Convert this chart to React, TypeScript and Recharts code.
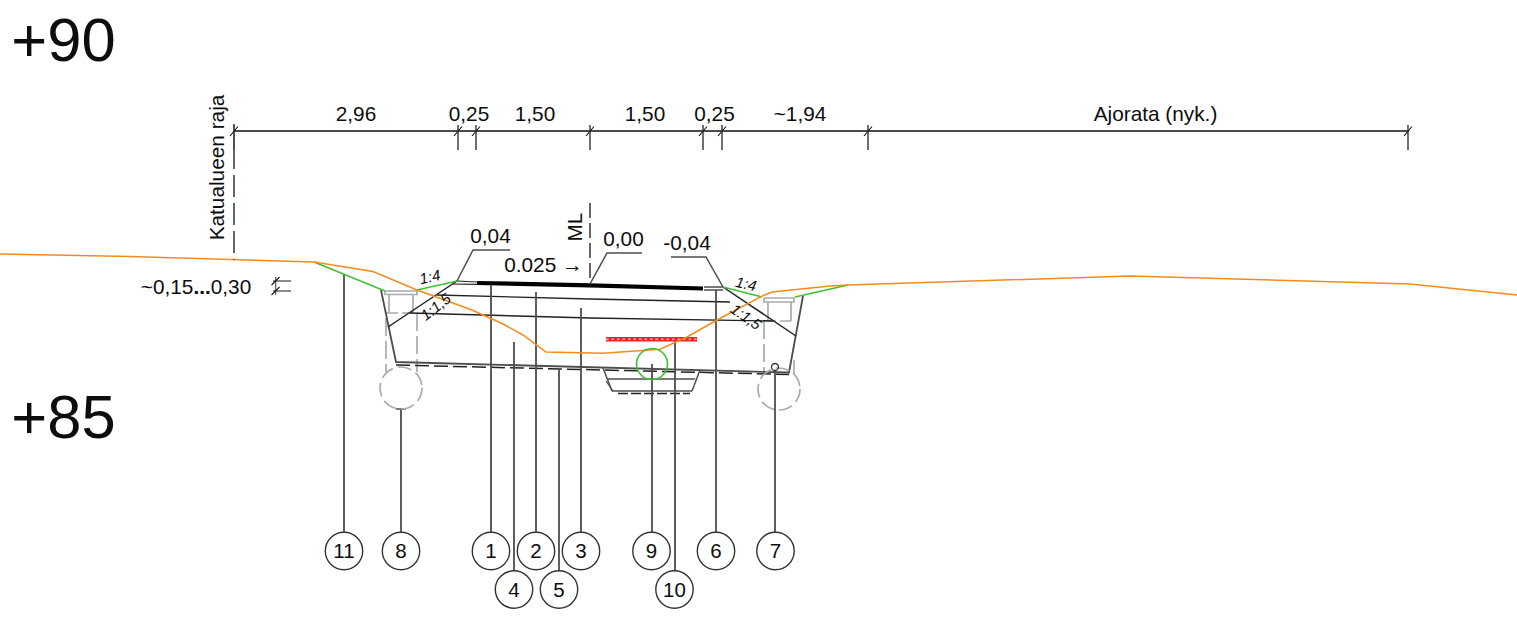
import React from "react";
import { ComposedChart, Line, Scatter, XAxis, YAxis } from "recharts";

// Drawing coordinates of the cross-section.
const ground = [[0,254],[130,256.5],[314,262],[373,271.5],[417,290],[472,310],[503,324],[523,335],[546,352],[603,353.3],[660,349.3],[687,337],[717,320],[763,295.7],[772,292],[830,286],[848,285],[1130,276],[1410,284],[1517,295]];
const greenLeft = [[314,262],[385,291]];
const greenLeft2 = [[417,290],[457,281]];
const greenRight = [[723,287],[762,297]];
const greenRight2 = [[795,297],[848,285]];
const trench = [[381,290],[396,362],[789,372.5],[803,296]];
const trenchDashed = [[396,365],[789,374.5]];
const slopeLeft = [[388,327],[457,281]];
const slopeRight = [[723,287],[796,336]];
const layer1 = [[437,295],[590,299],[730,302]];
const layer2 = [[410,313],[590,318],[773,321]];
const surface = [[477,283],[590,285.3],[703,288.5]];
const edgeLeftTop = [[457,281],[477,282]];
const edgeLeftBottom = [[453,284],[477,284.3]];
const edgeRightTop = [[704,287],[723,287]];
const edgeRightBottom = [[704,290],[723,290]];
const redMesh = [[606,339.3],[697,339.3]];
const drainLeft = [[603,368],[612,391]];
const drainLeft2 = [[606,381],[613,391]];
const drainRight = [[700,370],[692,391]];
const drainMid = [[607,379],[695,379]];
const drainBottom = [[612,391],[692,391]];
const drainDashed = [[618,393.5],[690,393.5]];
const leaderLeft = [[457,281],[473,250],[510,250]];
const leaderMid = [[590,284],[607,253],[642,253]];
const leaderRight = [[723,287],[706,257],[671,257]];
const centerLine = [[590,203],[590,284]];
const boundary = [[234,147],[234,260]];
const boundaryTop = [[234,124],[234,147]];
const dimLine = [[234,131],[1408,131]];
const smallDim1 = [[273,281],[291,281]];
const smallDim2 = [[273,291],[291,291]];
const smallTick1 = [[271.5,285],[279.5,277]];
const smallTick2 = [[271.5,295],[279.5,287]];
const smallStem = [[275.7,277],[275.7,295]];
const dimStations = [234,458,476,590,703,722,868,1408];

// grey utility structures
const wellLeftPlate = [[385,291],[417,291],[417,294.5],[385,294.5],[385,291]];
const wellLeftCol1 = [[389,295],[389,313]];
const wellLeftCol2 = [[413,295],[413,313]];
const wellLeftDash1 = [[386,318],[386,372]];
const wellLeftDash2 = [[417,313],[417,372]];
const wellLeftMid = [[386,313],[417,313]];
const wellRightPlate = [[764,298],[794,298],[794,302],[764,302],[764,298]];
const wellRightCol1 = [[768,302],[768,321]];
const wellRightCol2 = [[791,302],[791,321]];
const wellRightDash1 = [[764,321],[764,375]];
const wellRightDash2 = [[794,360],[794,375]];
const wellRightMid = [[764,321],[791,321]];

const leaders = [
  [[344,275],[344,532]],
  [[401,409],[401,532]],
  [[491,285],[491,532]],
  [[536,292],[536,532]],
  [[581,308],[581,532]],
  [[514,342],[514,571]],
  [[559,370],[559,571]],
  [[652,364],[652,532]],
  [[675,339],[675,571]],
  [[716,290],[716,532]],
  [[775,371],[775,532]],
];
const wellCapLeft = [[396,409],[406,409]];

const calloutRow = [
  { x: 344, y: 551, label: "11" },
  { x: 401, y: 551, label: "8" },
  { x: 491, y: 551, label: "1" },
  { x: 536, y: 551, label: "2" },
  { x: 581, y: 551, label: "3" },
  { x: 651.5, y: 551, label: "9" },
  { x: 716, y: 551, label: "6" },
  { x: 775.5, y: 551, label: "7" },
  { x: 514, y: 589.5, label: "4" },
  { x: 559, y: 589.5, label: "5" },
  { x: 674.5, y: 589.5, label: "10" },
];

const dimLabels = [
  { x: 356, y: 120.5, label: "2,96" },
  { x: 469, y: 120.5, label: "0,25" },
  { x: 535, y: 120.5, label: "1,50" },
  { x: 645, y: 120.5, label: "1,50" },
  { x: 714.5, y: 120.5, label: "0,25" },
  { x: 800, y: 120.5, label: "~1,94" },
  { x: 1155.5, y: 120.5, label: "Ajorata (nyk.)" },
  { x: 490.5, y: 243, label: "0,04" },
  { x: 623.5, y: 246, label: "0,00" },
  { x: 687, y: 250, label: "-0,04" },
  { x: 543.5, y: 272, label: "0.025 →" },
];
const levelLabels = [
  { x: 63.5, y: 61, label: "+90" },
  { x: 63.5, y: 438, label: "+85" },
];
const slopeLabels = [
  { x: 431, y: 282, label: "1:4", angle: -12 },
  { x: 745, y: 289, label: "1:4", angle: 12 },
  { x: 439, y: 311, label: "1:1,5", angle: -38 },
  { x: 743, y: 321, label: "1:1,5", angle: 35 },
];
const verticalLabels = [
  { x: 223.5, y: 167.5, label: "Katualueen raja" },
  { x: 582, y: 227, label: "ML" },
];
const rangeLabel = [{ x: 196, y: 294, before: "~0,15", dots: "...", after: "0,30" }];
const greenCircle = [{ x: 652, y: 364 }];
const wellPipes = [{ x: 401, y: 388 }, { x: 779, y: 389 }];
const smallPipe = [{ x: 775, y: 367 }];

const pts = (a: number[][]) => a.map(([x, y]) => ({ x, y }));
const FONT = "'Liberation Sans', Arial, sans-serif";
const DARK = "#4d4d4d";
const GREY = "#ababab";
const ORANGE = "#f58a1f";
const GREEN = "#3cc232";
const INK = "#0d0d0d";

const poly = (key: string, a: number[][], stroke: string, strokeWidth: number, strokeDasharray?: string) => (
  <Line
    key={key}
    data={pts(a)}
    dataKey="y"
    stroke={stroke}
    strokeWidth={strokeWidth}
    strokeDasharray={strokeDasharray}
    dot={false}
    activeDot={false}
    legendType="none"
    isAnimationActive={false}
  />
);

const textShape = (size: number, anchor: string = "middle", italic = false) => (p: any) => (
  <text
    x={p.cx}
    y={p.cy}
    fontFamily={FONT}
    fontSize={size}
    textAnchor={anchor}
    fontStyle={italic ? "italic" : "normal"}
    fill={INK}
    transform={p.payload.angle ? `rotate(${p.payload.angle} ${p.cx} ${p.cy})` : undefined}
  >
    {p.payload.label}
  </text>
);
const verticalShape = (p: any) => (
  <text x={p.cx} y={p.cy} fontFamily={FONT} fontSize={20.8} textAnchor="middle" fill={INK} transform={`rotate(-90 ${p.cx} ${p.cy})`}>
    {p.payload.label}
  </text>
);
const rangeShape = (p: any) => (
  <text x={p.cx} y={p.cy} fontFamily={FONT} fontSize={20.8} textAnchor="middle" fill={INK}>
    {p.payload.before}
    <tspan fontWeight="bold">{p.payload.dots}</tspan>
    {p.payload.after}
  </text>
);
const calloutShape = (p: any) => (
  <g>
    <circle cx={p.cx} cy={p.cy} r={18.7} fill="#fff" stroke="#333" strokeWidth={1.4} />
    <text x={p.cx} y={p.cy + 7.2} fontFamily={FONT} fontSize={20.5} textAnchor="middle" fill={INK}>
      {p.payload.label}
    </text>
  </g>
);
const ringShape = (r: number, stroke: string, width: number, dash?: string) => (p: any) => (
  <circle cx={p.cx} cy={p.cy} r={r} fill="none" stroke={stroke} strokeWidth={width} strokeDasharray={dash} />
);
const marks = (key: string, data: any[], shape: any) => (
  <Scatter key={key} data={data} dataKey="y" shape={shape} legendType="none" isAnimationActive={false} />
);

export default function App() {
  return (
    <div style={{ position: "absolute", left: 0, top: 0, width: 1517, height: 618, background: "#fff" }}>
      <ComposedChart width={1517} height={618} margin={{ top: 0, right: 0, bottom: 0, left: 0 }}>
        <XAxis type="number" dataKey="x" domain={[0, 1517]} hide />
        <YAxis type="number" dataKey="y" domain={[0, 618]} reversed hide width={0} />

        {poly("wlp", wellLeftPlate, GREY, 1.7)}
        {poly("wlc1", wellLeftCol1, GREY, 1.7)}
        {poly("wlc2", wellLeftCol2, GREY, 1.7)}
        {poly("wld1", wellLeftDash1, GREY, 1.7, "18 5")}
        {poly("wld2", wellLeftDash2, GREY, 1.7, "18 5")}
        {poly("wlm", wellLeftMid, GREY, 1.4, "12 4")}
        {poly("wrp", wellRightPlate, GREY, 1.7)}
        {poly("wrc1", wellRightCol1, GREY, 1.7)}
        {poly("wrc2", wellRightCol2, GREY, 1.7)}
        {poly("wrd1", wellRightDash1, GREY, 1.7, "18 5")}
        {poly("wrd2", wellRightDash2, GREY, 1.7, "18 5")}
        {poly("wrm", wellRightMid, GREY, 1.4, "12 4")}
        {marks("wells", wellPipes, ringShape(21, GREY, 1.7, "14 5"))}

        {poly("trench", trench, DARK, 1.8)}
        {poly("trenchDash", trenchDashed, "#222", 1.5, "14 5")}
        {poly("sl", slopeLeft, "#222", 1.5)}
        {poly("sr", slopeRight, "#222", 1.5)}
        {poly("l1", layer1, "#222", 1.4)}
        {poly("l2", layer2, "#222", 1.4)}
        {poly("surface", surface, "#000", 4.2)}
        {poly("elt", edgeLeftTop, "#222", 1.2)}
        {poly("elb", edgeLeftBottom, "#222", 1.2)}
        {poly("ert", edgeRightTop, "#222", 1.2)}
        {poly("erb", edgeRightBottom, "#222", 1.2)}

        {poly("dl", drainLeft, DARK, 1.5)}
        {poly("dl2", drainLeft2, DARK, 1.3)}
        {poly("dr", drainRight, DARK, 1.5)}
        {poly("dm", drainMid, DARK, 1.4)}
        {poly("db", drainBottom, DARK, 1.4)}
        {poly("dd", drainDashed, "#222", 1.3, "10 3")}

        {leaders.map((l, i) => poly(`leader${i}`, l, DARK, 1.8))}
        {poly("cap", wellCapLeft, DARK, 1.5)}

        {poly("mesh", redMesh, "#f0222a", 4.6)}
        {poly("meshWeave", redMesh, "#ffa6a6", 1.4, "2.5 3")}
        {marks("greenRing", greenCircle, ringShape(15.5, GREEN, 1.6))}
        {marks("smallPipe", smallPipe, ringShape(3.5, "#333", 1.3))}

        {poly("gl", greenLeft, GREEN, 1.5)}
        {poly("gl2", greenLeft2, GREEN, 1.5)}
        {poly("gr", greenRight, GREEN, 1.5)}
        {poly("gr2", greenRight2, GREEN, 1.5)}
        {poly("ground", ground, ORANGE, 1.5)}

        {poly("ll", leaderLeft, DARK, 1.5)}
        {poly("lm", leaderMid, DARK, 1.5)}
        {poly("lr", leaderRight, DARK, 1.5)}
        {poly("ml", centerLine, DARK, 1.7, "15 5")}
        {poly("bound", boundary, DARK, 1.7, "22 6")}
        {poly("boundTop", boundaryTop, DARK, 1.7)}
        {poly("dim", dimLine, "#111", 1.4)}
        {dimStations.map((x) => poly(`st${x}`, [[x, 125], [x, 150]], DARK, 1.6))}
        {dimStations.map((x) => poly(`sl${x}`, [[x - 4, 136], [x + 4, 126.5]], "#111", 1.1))}
        {poly("sd1", smallDim1, DARK, 1.3)}
        {poly("sd2", smallDim2, DARK, 1.3)}
        {poly("stem", smallStem, DARK, 1.1)}
        {poly("st1", smallTick1, "#111", 1.1)}
        {poly("st2", smallTick2, "#111", 1.1)}

        {marks("callouts", calloutRow, calloutShape)}
        {marks("dimLabels", dimLabels, textShape(20.8))}
        {marks("levels", levelLabels, textShape(61.5))}
        {marks("slopes", slopeLabels, textShape(15, "middle", true))}
        {marks("verticals", verticalLabels, verticalShape)}
        {marks("range", rangeLabel, rangeShape)}
      </ComposedChart>
    </div>
  );
}
